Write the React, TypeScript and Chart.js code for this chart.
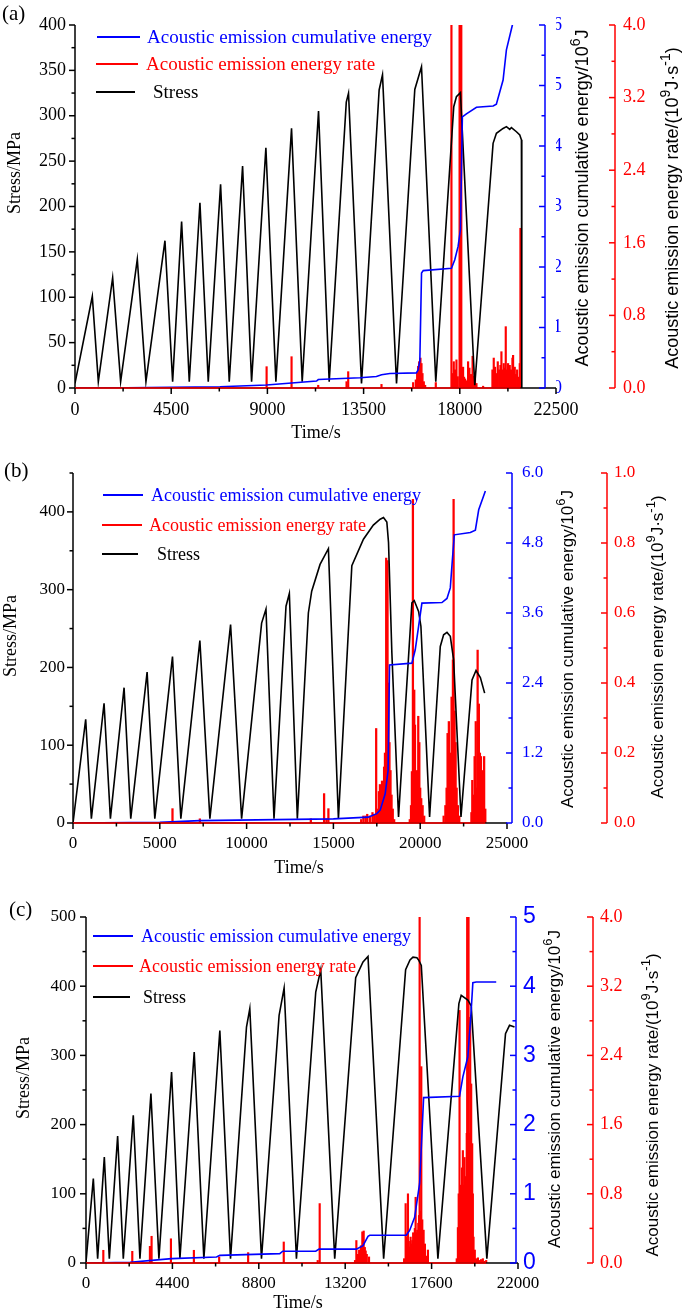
import React, { useEffect, useRef } from 'react';
import { Chart, registerables } from 'chart.js';

Chart.register(...registerables);

const SERIF = '"Liberation Serif", "Times New Roman", serif';
const SANS = '"Liberation Sans", Arial, sans-serif';
const BLUE = '#0000ff';
const RED = '#ff0000';
const BLACK = '#000000';

const LEGEND_LABELS = ['Acoustic emission cumulative energy', 'Acoustic emission energy rate', 'Stress'];
const STRESS_TITLE = 'Stress/MPa';
const TIME_TITLE = 'Time/s';

// ---------------- Panel (a) ----------------
const aTimeTicks = [0, 4500, 9000, 13500, 18000, 22500];
const aStressTicks = [0, 50, 100, 150, 200, 250, 300, 350, 400];
const aCumTicks = [0, 1, 2, 3, 4, 5, 6];
const aRateTicks = [0, 0.8, 1.6, 2.4, 3.2, 4.0];

const aStressTime = [0, 810, 1091, 1761, 2135, 2914, 3319, 4208, 4567, 4987, 5345, 5844, 6233, 6810, 7215, 7839, 8260, 8929, 9397, 10129, 10628, 11392, 11891, 12690, 12794, 13402, 14227, 14384, 15040, 15895, 16208, 16877, 17717, 17842, 18029, 18700, 19557, 19713, 20025, 20181, 20337, 20415, 20649, 20805, 20883, 20900];
const aStress = [5, 101, 7, 121.6, 7, 141.8, 7, 162.3, 7, 183.3, 7, 204.2, 7, 224.4, 7, 244.6, 7, 264.8, 7, 286.1, 7, 305.2, 7, 315, 324.7, 5, 328.4, 345, 5, 329, 354, 7, 310, 321, 325.4, 3, 269.6, 280.6, 286, 288, 285, 287, 282.4, 278.8, 273.5, 0];

const aCumTime = [0, 2400, 4500, 6780, 8960, 11300, 11380, 13330, 14100, 14340, 14730, 15970, 16050, 16130, 16210, 16290, 17610, 17765, 17920, 18030, 18120, 18310, 18780, 19560, 19710, 20025, 20180, 20460, 20520];
const aCum = [0, 0.005, 0.01, 0.02, 0.05, 0.115, 0.14, 0.17, 0.19, 0.22, 0.24, 0.25, 0.3, 0.45, 1.9, 1.94, 1.98, 2.12, 2.34, 2.62, 4.48, 4.53, 4.64, 4.66, 4.69, 5.09, 5.59, 6.0, 6.15];

const aRateTime = [8963, 10130, 11377, 12702, 12780, 14337, 15817, 15942, 16004, 16051, 16098, 16160, 16208, 16255, 16317, 16380, 16877, 17609, 17656, 17718, 17780, 17843, 17905, 17990, 18030, 18070, 18154, 18200, 18250, 18320, 18388, 18450, 18520, 18598, 18650, 18710, 18780, 19091, 19526, 19588, 19651, 19713, 19776, 19840, 19900, 19947, 19994, 20056, 20100, 20150, 20212, 20259, 20300, 20337, 20400, 20462, 20493, 20571, 20620, 20681, 20740, 20805, 20836];
const aRate = [0.235, 0.345, 0.03, 0.07, 0.18, 0.04, 0.06, 0.09, 0.16, 0.24, 0.29, 0.33, 0.27, 0.16, 0.07, 0.03, 0.06, 4.5, 0.16, 0.29, 0.2, 0.31, 0.125, 4.5, 4.5, 4.5, 0.23, 0.12, 0.1, 0.08, 0.29, 0.22, 0.15, 0.35, 0.13, 0.1, 0.05, 0.02, 0.2, 0.33, 0.23, 0.16, 0.29, 0.2, 0.25, 0.4, 0.2, 0.27, 0.22, 0.676, 0.2, 0.27, 0.15, 0.25, 0.2, 0.33, 0.36, 0.23, 0.15, 0.2, 0.12, 0.27, 1.76];

// ---------------- Panel (b) ----------------
const bTimeTicks = [0, 5000, 10000, 15000, 20000, 25000];
const bStressTicks = [0, 100, 200, 300, 400];
const bStressMax = 450;
const bCumTicks = [0, 1.2, 2.4, 3.6, 4.8, 6.0];
const bRateTicks = [0, 0.2, 0.4, 0.6, 0.8, 1.0];

const bStressTime = [0, 731, 1058, 1789, 2154, 2942, 3327, 4269, 4712, 5731, 6212, 7308, 7885, 9077, 9712, 10865, 11116, 11578, 12270, 12462, 12923, 13558, 13750, 14231, 14712, 15289, 16062, 16731, 17300, 17694, 17886, 18078, 18175, 18368, 18752, 19522, 19657, 19907, 20041, 20541, 21157, 21349, 21542, 21734, 21924, 22349, 22985, 23215, 23466, 23712];
const bStress = [0, 133.4, 5.6, 154, 5.6, 174, 5.6, 194, 5.6, 214, 5.6, 234.5, 5.6, 255, 5.6, 257, 275, 5.6, 278.7, 295, 5.6, 270, 298, 332.5, 352.7, 5.6, 330.7, 364.8, 383, 390.6, 392.8, 387, 360.7, 218.6, 7.7, 283, 286, 272, 253, 7.7, 227, 242, 245, 240, 210, 7.7, 184, 196, 187, 167];

const bCumTime = [0, 5000, 7300, 15000, 17000, 17500, 17695, 17983, 18150, 18233, 19522, 19714, 19907, 20099, 21253, 21542, 21734, 21850, 21965, 22888, 23177, 23370, 23754];
const bCum = [0, 0.01, 0.04, 0.07, 0.1, 0.16, 0.22, 0.5, 0.9, 2.71, 2.74, 2.97, 3.37, 3.77, 3.78, 3.85, 4.03, 4.5, 4.94, 4.98, 5.02, 5.37, 5.69];

const bRateTime = [5731, 7308, 13700, 14464, 14600, 14712, 16600, 16727, 16850, 16950, 17100, 17250, 17350, 17464, 17560, 17620, 17680, 17740, 17800, 17860, 17920, 17970, 18041, 18080, 18118, 18175, 18230, 18290, 18350, 18420, 18500, 19400, 19470, 19522, 19580, 19620, 19657, 19700, 19760, 19820, 19888, 19950, 20000, 20060, 20140, 20230, 21350, 21450, 21520, 21577, 21650, 21700, 21760, 21808, 21885, 21924, 21980, 22040, 22100, 22170, 22250, 22950, 23000, 23080, 23135, 23200, 23270, 23308, 23380, 23440, 23500, 23560, 23620, 23683, 23750];
const bRate = [0.041, 0.012, 0.012, 0.084, 0.012, 0.041, 0.01, 0.02, 0.02, 0.025, 0.02, 0.03, 0.025, 0.27, 0.04, 0.09, 0.11, 0.08, 0.12, 0.1, 0.16, 0.2, 0.757, 0.3, 0.75, 0.4, 0.23, 0.15, 0.08, 0.04, 0.01, 0.01, 0.05, 0.147, 0.925, 0.3, 0.38, 0.28, 0.1, 0.15, 0.305, 0.23, 0.1, 0.07, 0.05, 0.02, 0.02, 0.05, 0.1, 0.256, 0.29, 0.15, 0.2, 0.36, 0.466, 0.925, 0.32, 0.23, 0.1, 0.05, 0.02, 0.03, 0.122, 0.08, 0.19, 0.29, 0.1, 0.494, 0.34, 0.2, 0.19, 0.08, 0.15, 0.19, 0.04];

// ---------------- Panel (c) ----------------
const cTimeTicks = [0, 4400, 8800, 13200, 17600, 22000];
const cStressTicks = [0, 100, 200, 300, 400, 500];
const cCumTicks = [0, 1, 2, 3, 4, 5];
const cRateTicks = [0, 0.8, 1.6, 2.4, 3.2, 4.0];

const cStressTime = [0, 373, 593, 933, 1187, 1611, 1899, 2408, 2747, 3306, 3713, 4358, 4782, 5511, 6002, 6816, 7359, 8173, 8342, 8936, 9834, 10089, 10716, 11700, 11954, 12666, 13734, 14107, 14361, 15158, 16277, 16500, 16651, 16853, 16957, 17075, 17921, 18990, 19108, 19447, 19617, 20414, 21364, 21568, 21822];
const cStress = [1.5, 122, 6.3, 153, 6.3, 183.5, 6.3, 213.4, 6.3, 244.8, 6.3, 276, 6.3, 305, 6.3, 336, 6.3, 341, 367.6, 6.3, 358, 397.4, 6.3, 391.6, 424, 6.3, 412.4, 435, 443, 6.3, 424, 438, 442, 441, 437, 430, 6.3, 374.8, 386.8, 380, 371.5, 6.3, 331.5, 343.5, 341];

const cCumTime = [0, 2240, 4358, 6645, 6816, 9868, 10020, 11700, 11867, 13768, 14107, 14361, 14450, 16311, 16481, 16736, 16990, 17125, 17193, 19023, 19192, 19446, 19616, 19701, 19871, 20891];
const cCum = [0, 0.01, 0.063, 0.087, 0.11, 0.135, 0.17, 0.17, 0.2, 0.2, 0.25, 0.386, 0.4, 0.4, 0.47, 0.66, 1.15, 1.97, 2.39, 2.41, 2.69, 2.98, 3.65, 4.05, 4.06, 4.06];

const cRateTime = [882, 2357, 3255, 3340, 4325, 5494, 6782, 8257, 10071, 11800, 11901, 13700, 13768, 13853, 13910, 14000, 14073, 14141, 14200, 14243, 14300, 14413, 16200, 16278, 16340, 16396, 16440, 16481, 16530, 16566, 16617, 16660, 16702, 16745, 16787, 16830, 16871, 16922, 16960, 16990, 17030, 17075, 17125, 17160, 17193, 17230, 17261, 17330, 17413, 18880, 18939, 18980, 19023, 19060, 19108, 19150, 19192, 19235, 19277, 19328, 19362, 19390, 19413, 19447, 19481, 19520, 19566, 19616, 19667, 19700, 19735, 19800, 19871, 19960, 20040, 20120, 20210, 20300, 20380];
const cRate = [0.147, 0.135, 0.193, 0.309, 0.28, 0.147, 0.07, 0.12, 0.243, 0.03, 0.687, 0.03, 0.26, 0.1, 0.15, 0.2, 0.36, 0.37, 0.18, 0.14, 0.1, 0.07, 0.05, 0.687, 0.3, 0.8, 0.25, 0.185, 0.3, 0.22, 0.26, 0.35, 0.28, 0.4, 0.76, 0.35, 0.38, 0.46, 0.55, 4.5, 0.6, 2.27, 0.5, 0.3, 0.38, 0.2, 0.22, 0.08, 0.15, 0.05, 0.41, 0.8, 2.92, 0.9, 0.41, 1.1, 1.3, 0.9, 1.22, 1.0, 0.84, 1.5, 4.5, 4.5, 4.5, 1.5, 2.84, 2.07, 1.38, 0.8, 0.3, 0.15, 0.05, 0.06, 0.03, 0.04, 0.05, 0.02, 0.03];

// ---------------- panel specs (layout / style) ----------------
type Part = { t: string; sup?: boolean };
const CUM_TITLE: Part[] = [{ t: 'Acoustic emission cumulative energy/10' }, { t: '6', sup: true }, { t: 'J' }];
const RATE_TITLE: Part[] = [{ t: 'Acoustic emission energy rate/(10' }, { t: '9', sup: true }, { t: 'J\u00b7s' }, { t: '-1', sup: true }, { t: ')' }];

const W = 685;

const panels: any[] = [
  {
    key: 'a', label: '(a)', top: 0, height: 440,
    left: 75, right: 556, ctop: 25, bottom: 388, blueX: 545, redX: 615,
    xTicks: aTimeTicks, xMax: 22500, yTicks: aStressTicks, yMax: 400,
    bTicks: aCumTicks, bMax: 6, bDec: 0, rTicks: aRateTicks, rMax: 4, rDec: 1,
    stressT: aStressTime, stress: aStress, cumT: aCumTime, cum: aCum, rateT: aRateTime, rate: aRate,
    fx: 18, fy: 18, fb: 18, fbFam: SERIF, fr: 18, padX: 11, padY: 9, padB: 8, padR: 8,
    stressTitle: [15, 173, 18], blueTitle: [583, 198, 18], redTitle: [673, 208, 18], timeTitle: [316, 433, 18],
    panelLabel: [2, 14, 21], legendY: [37, 64, 92], legendLine: [[97, 140], [96, 138], [96, 135]], legendTx: [147, 146, 153], legendFont: 19,
    barW: 1.5,
  },
  {
    key: 'b', label: '(b)', top: 440, height: 440,
    left: 73, right: 507, ctop: 33, bottom: 383, blueX: 512, redX: 607,
    xTicks: bTimeTicks, xMax: 25000, yTicks: bStressTicks, yMax: bStressMax,
    bTicks: bCumTicks, bMax: 6, bDec: 1, rTicks: bRateTicks, rMax: 1, rDec: 1,
    stressT: bStressTime, stress: bStress, cumT: bCumTime, cum: bCum, rateT: bRateTime, rate: bRate,
    fx: 17, fy: 17, fb: 17, fbFam: SERIF, fr: 17, padX: 10, padY: 8, padB: 10, padR: 7,
    stressTitle: [11, 196, 18], blueTitle: [568, 209, 17], redTitle: [658, 207, 17], timeTitle: [299, 428, 18],
    panelLabel: [4, 31, 21], legendY: [55, 85, 114], legendLine: [[103, 143], [102, 142], [102, 138]], legendTx: [151, 149, 157], legendFont: 18,
    barW: 1.6,
  },
  {
    key: 'c', label: '(c)', top: 880, height: 432,
    left: 86, right: 518, ctop: 37, bottom: 383, blueX: 516, redX: 593,
    xTicks: cTimeTicks, xMax: 22000, yTicks: cStressTicks, yMax: 500,
    bTicks: cCumTicks, bMax: 5, bDec: 0, rTicks: cRateTicks, rMax: 4, rDec: 1,
    stressT: cStressTime, stress: cStress, cumT: cCumTime, cum: cCum, rateT: cRateTime, rate: cRate,
    fx: 17, fy: 17, fb: 23, fbFam: SANS, fr: 18, padX: 10, padY: 10, padB: 7, padR: 7,
    stressTitle: [24, 198, 18], blueTitle: [555, 209, 17], redTitle: [653, 225, 17], timeTitle: [298, 423, 18],
    panelLabel: [9, 30, 21], legendY: [56, 86, 117], legendLine: [[93, 133], [93, 133], [93, 130]], legendTx: [141, 139, 143], legendFont: 18,
    barW: 1.5,
  },
];

// ---------------- helpers ----------------
const pts = (xs: number[], ys: number[]) => xs.map((x, i) => ({ x, y: ys[i] }));

function minorsOf(ticks: number[], max: number) {
  const step = ticks[1] - ticks[0];
  const out: number[] = [];
  for (let v = ticks[0] + step / 2; v <= max + 1e-9; v += step) out.push(v);
  return out;
}

function seg(ctx: any, x1: number, y1: number, x2: number, y2: number, color: string, w = 1.5) {
  ctx.beginPath();
  ctx.strokeStyle = color;
  ctx.lineWidth = w;
  ctx.moveTo(x1, y1);
  ctx.lineTo(x2, y2);
  ctx.stroke();
}

function vText(ctx: any, cx: number, cy: number, parts: Part[], size: number, family: string, color: string) {
  ctx.save();
  ctx.translate(cx, cy);
  ctx.rotate(-Math.PI / 2);
  ctx.fillStyle = color;
  ctx.textBaseline = 'middle';
  ctx.textAlign = 'left';
  const sup = Math.round(size * 0.75);
  const widths = parts.map((p) => {
    ctx.font = `${p.sup ? sup : size}px ${family}`;
    return ctx.measureText(p.t).width;
  });
  const total = widths.reduce((a, b) => a + b, 0);
  let px = -total / 2;
  parts.forEach((p, i) => {
    ctx.font = `${p.sup ? sup : size}px ${family}`;
    ctx.fillText(p.t, px, p.sup ? -size * 0.4 : 0);
    px += widths[i];
  });
  ctx.restore();
}

function decor(s: any) {
  return {
    id: 'decor_' + s.key,
    afterDraw(chart: any) {
      const { ctx, chartArea: ca, scales } = chart;
      const xs = scales.x, ys = scales.y, b = scales.y1, r = scales.y2;
      ctx.save();
      const yTop = ys.getPixelForValue(s.yMax);
      // axis lines
      seg(ctx, ca.left, ca.bottom, ca.right, ca.bottom, BLACK);
      seg(ctx, ca.left, yTop, ca.left, ca.bottom, BLACK);
      seg(ctx, s.blueX, b.getPixelForValue(s.bMax), s.blueX, b.getPixelForValue(0), BLUE);
      seg(ctx, r.left, r.getPixelForValue(s.rMax), r.left, r.getPixelForValue(0), RED);
      // energy-rate baseline over the record
      const rateEnd = Math.max(...s.rateT);
      seg(ctx, xs.getPixelForValue(0), r.getPixelForValue(0), xs.getPixelForValue(rateEnd), r.getPixelForValue(0), RED, 1.3);
      // ticks
      const MAJ = 6, MIN = 3.5;
      s.xTicks.forEach((v: number) => { const p = xs.getPixelForValue(v); seg(ctx, p, ca.bottom, p, ca.bottom + MAJ, BLACK); });
      minorsOf(s.xTicks, s.xMax).forEach((v) => { const p = xs.getPixelForValue(v); seg(ctx, p, ca.bottom, p, ca.bottom + MIN, BLACK); });
      s.yTicks.forEach((v: number) => { const p = ys.getPixelForValue(v); seg(ctx, ca.left - MAJ, p, ca.left, p, BLACK); });
      minorsOf(s.yTicks, s.yMax).forEach((v) => { const p = ys.getPixelForValue(v); seg(ctx, ca.left - MIN, p, ca.left, p, BLACK); });
      s.bTicks.forEach((v: number) => { const p = b.getPixelForValue(v); seg(ctx, s.blueX - MAJ, p, s.blueX, p, BLUE); });
      minorsOf(s.bTicks, s.bMax).forEach((v) => { const p = b.getPixelForValue(v); seg(ctx, s.blueX - MIN, p, s.blueX, p, BLUE); });
      s.rTicks.forEach((v: number) => { const p = r.getPixelForValue(v); seg(ctx, r.left - MAJ, p, r.left, p, RED); });
      minorsOf(s.rTicks, s.rMax).forEach((v) => { const p = r.getPixelForValue(v); seg(ctx, r.left - MIN, p, r.left, p, RED); });
      // titles
      vText(ctx, s.stressTitle[0], s.stressTitle[1], [{ t: STRESS_TITLE }], s.stressTitle[2], SERIF, BLACK);
      vText(ctx, s.blueTitle[0], s.blueTitle[1], CUM_TITLE, s.blueTitle[2], SANS, BLACK);
      vText(ctx, s.redTitle[0], s.redTitle[1], RATE_TITLE, s.redTitle[2], SANS, BLACK);
      ctx.fillStyle = BLACK;
      ctx.textAlign = 'center';
      ctx.textBaseline = 'middle';
      ctx.font = `${s.timeTitle[2]}px ${SERIF}`;
      ctx.fillText(TIME_TITLE, s.timeTitle[0], s.timeTitle[1]);
      ctx.textAlign = 'left';
      ctx.font = `${s.panelLabel[2]}px ${SERIF}`;
      ctx.fillText(s.label, s.panelLabel[0], s.panelLabel[1]);
      // legend
      const colors = [BLUE, RED, BLACK];
      LEGEND_LABELS.forEach((txt, i) => {
        const yy = s.legendY[i];
        seg(ctx, s.legendLine[i][0], yy, s.legendLine[i][1], yy, colors[i], 1.8);
        ctx.fillStyle = colors[i];
        ctx.font = `${s.legendFont}px ${SERIF}`;
        ctx.textAlign = 'left';
        ctx.textBaseline = 'middle';
        ctx.fillText(txt, s.legendTx[i], yy + 1);
      });
      ctx.restore();
    },
  };
}

function buildConfig(s: any): any {
  const tickSet = (arr: number[]) => (sc: any) => { sc.ticks = arr.map((v) => ({ value: v })); };
  const common = { grid: { display: false, drawTicks: false }, border: { display: false } };
  return {
    type: 'line',
    data: {
      datasets: [
        { type: 'bar', label: LEGEND_LABELS[1], data: pts(s.rateT, s.rate), yAxisID: 'y2', backgroundColor: RED, borderWidth: 0, barThickness: s.barW, order: 3 },
        { type: 'line', label: LEGEND_LABELS[2], data: pts(s.stressT, s.stress), yAxisID: 'y', borderColor: BLACK, borderWidth: 1.6, pointRadius: 0, tension: 0, fill: false, order: 2 },
        { type: 'line', label: LEGEND_LABELS[0], data: pts(s.cumT, s.cum), yAxisID: 'y1', borderColor: BLUE, borderWidth: 1.6, pointRadius: 0, tension: 0, fill: false, order: 1 },
      ],
    },
    options: {
      animation: false,
      responsive: false,
      events: [],
      layout: { padding: { top: s.ctop, left: 0, right: 0, bottom: 0 } },
      plugins: { legend: { display: false }, tooltip: { enabled: false }, title: { display: false } },
      scales: {
        x: {
          type: 'linear', position: 'bottom', min: 0, max: s.xMax, offset: false, ...common,
          afterBuildTicks: tickSet(s.xTicks),
          afterFit: (sc: any) => { sc.height = s.height - s.bottom; },
          ticks: { autoSkip: false, maxRotation: 0, minRotation: 0, color: BLACK, padding: s.padX, font: { family: SERIF, size: s.fx }, callback: (v: any) => String(v) },
        },
        y: {
          type: 'linear', position: 'left', min: 0, max: s.yMax, ...common,
          afterBuildTicks: tickSet(s.yTicks),
          afterFit: (sc: any) => { sc.width = s.left; },
          ticks: { autoSkip: false, color: BLACK, padding: s.padY, font: { family: SERIF, size: s.fy }, callback: (v: any) => String(v) },
        },
        y1: {
          type: 'linear', position: 'right', min: 0, max: s.bMax, ...common,
          afterBuildTicks: tickSet(s.bTicks),
          afterFit: (sc: any) => { sc.width = s.redX - s.right; },
          ticks: { autoSkip: false, color: BLUE, padding: s.blueX - s.right + s.padB, font: { family: s.fbFam, size: s.fb }, callback: (v: any) => Number(v).toFixed(s.bDec) },
        },
        y2: {
          type: 'linear', position: 'right', min: 0, max: s.rMax, ...common,
          afterBuildTicks: tickSet(s.rTicks),
          afterFit: (sc: any) => { sc.width = W - s.redX; },
          ticks: { autoSkip: false, color: RED, padding: s.padR, font: { family: SERIF, size: s.fr }, callback: (v: any) => Number(v).toFixed(s.rDec) },
        },
      },
    },
    plugins: [decor(s)],
  };
}

function Panel({ spec }: { spec: any }) {
  const ref = useRef<HTMLCanvasElement>(null);
  useEffect(() => {
    const canvas = ref.current;
    if (!canvas) return;
    const chart = new Chart(canvas, buildConfig(spec));
    return () => chart.destroy();
  }, [spec]);
  return (
    <canvas
      ref={ref}
      width={W}
      height={spec.height}
      style={{ position: 'absolute', left: 0, top: spec.top, width: W, height: spec.height }}
    />
  );
}

export default function App() {
  return (
    <div style={{ position: 'absolute', left: 0, top: 0, width: W, height: 1312, background: '#ffffff', overflow: 'hidden' }}>
      {panels.map((p) => (
        <Panel key={p.key} spec={p} />
      ))}
    </div>
  );
}
